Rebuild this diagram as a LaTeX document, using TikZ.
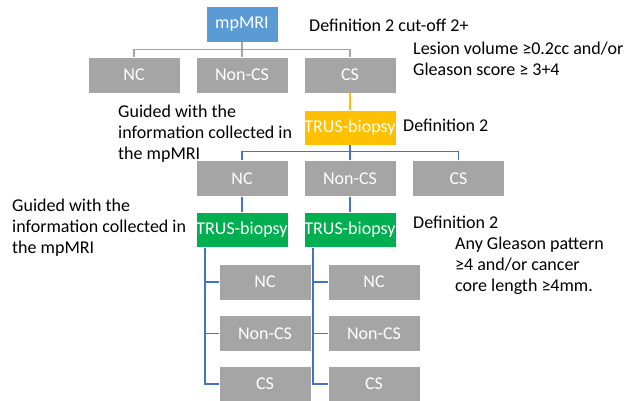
\documentclass[tikz,border=0pt]{standalone}
\usepackage{fontspec}
\setmainfont{Carlito}
\definecolor{mriblue}{HTML}{5B9BD5}
\definecolor{boxgrey}{HTML}{A5A5A5}
\definecolor{trusyellow}{HTML}{FFC000}
\definecolor{trusgreen}{HTML}{00B050}
\definecolor{lineblue}{HTML}{4472C4}
\definecolor{linegrey}{HTML}{A5A5A5}
\usetikzlibrary{positioning}

\begin{document}
\begin{tikzpicture}[x=1pt,y=-1pt,
  box/.style={minimum width=92pt,minimum height=36pt,inner sep=0pt,text=white,draw=white,thin,font=\fontsize{18}{21}\selectfont},
  greybox/.style={box,fill=boxgrey},
  note/.style={anchor=west,align=left,inner sep=0pt,font=\fontsize{18}{21}\selectfont}]
\useasboundingbox (0,0) rectangle (624,401);
% boxes
\node [box,fill=mriblue,minimum width=72pt](mri) at (242,24) {mpMRI};
\node [greybox](nc1) at (134,75) {NC};
\node [greybox](ncs1) at (242,75) {Non-CS};
\node [greybox](cs1) at (350,75) {CS};
\node [box,fill=trusyellow,minimum height=35pt](trus) at (350,127.5) {TRUS-biopsy};
\node [greybox](nc2) at (242,178.5) {NC};
\node [greybox](ncs2) at (350,178.5) {Non-CS};
\node [greybox](cs2) at (458.5,178.5) {CS};
\node [box,fill=trusgreen,minimum height=35pt](gl) at (242,230) {TRUS-biopsy};
\node [box,fill=trusgreen,minimum height=35pt](gr) at (350,230) {TRUS-biopsy};
\node [greybox](lnc) at (265,282) {NC};
\node [greybox](lncs) at (265,333.5) {Non-CS};
\node [greybox](lcs) at (265,384) {CS};
\node [greybox](rnc) at (374,282) {NC};
\node [greybox](rncs) at (374,333.5) {Non-CS};
\node [greybox](rcs) at (374,384) {CS};
\coordinate (ltop) at (205,247.5);
\coordinate (rtop) at (313,247.5);
% connectors
\draw [linegrey,line width=1.2pt] (mri) -- (ncs1);
\draw [linegrey,line width=1.2pt] (nc1.north) -- ++(0,-7) -| (cs1.north);
\draw [trusyellow,line width=1.2pt] (cs1) -- (trus);
\draw [lineblue,line width=1.2pt] (trus) -- (ncs2);
\draw [lineblue,line width=1.2pt] (nc2.north) -- ++(0,-9) -| (cs2.north);
\draw [lineblue,line width=1.2pt] (nc2) -- (gl);
\draw [lineblue,line width=1.2pt] (ncs2) -- (gr);
\draw [lineblue,line width=1.2pt] (ltop) |- (lcs.west);
\draw [lineblue,line width=1.2pt] (ltop |- lnc.west) -- (lnc.west);
\draw [lineblue,line width=1.2pt] (ltop |- lncs.west) -- (lncs.west);
\draw [lineblue,line width=1.2pt] (rtop) |- (rcs.west);
\draw [lineblue,line width=1.2pt] (rtop |- rnc.west) -- (rnc.west);
\draw [lineblue,line width=1.2pt] (rtop |- rncs.west) -- (rncs.west);
% notes
\node [note](cut) at (309,25) {Definition 2 cut-off 2+};
\node [note](lesion) at (413,59) {Lesion volume ≥0.2cc and/or\\Gleason score ≥ 3+4};
\node [note](guide1) at (118,134) {Guided with the\\information collected in\\the mpMRI};
\node [note](def1) at (403,125) {Definition 2};
\node [note](guide2) at (12,228) {Guided with the\\information collected in\\the mpMRI};
\node [note](def2) at (413,222) {Definition 2};
\node [note](gleason) at (455,266) {Any Gleason pattern\\≥4 and/or cancer\\core length ≥4mm.};
\end{tikzpicture}
\end{document}
